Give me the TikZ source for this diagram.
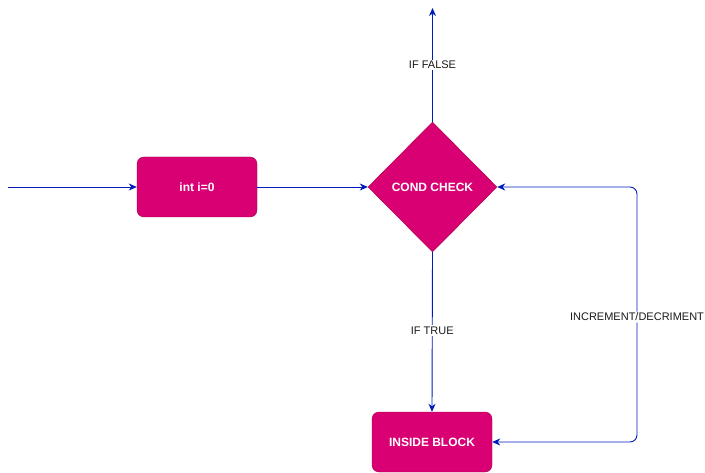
\documentclass[tikz,border=0pt]{standalone}
\usepackage{fontspec}
\setmainfont{Liberation Sans}
\usetikzlibrary{shapes.geometric,arrows.meta}
\definecolor{pinkfill}{HTML}{D80073}
\definecolor{pinkline}{HTML}{A50040}
\definecolor{conn}{HTML}{001DBC}
\definecolor{lbl}{HTML}{1A1A1A}
\tikzset{
  block/.style={draw=pinkline, fill=pinkfill, rounded corners=7pt, minimum width=120pt, minimum height=60pt, inner sep=0pt, text=white, font=\fontsize{12pt}{14pt}\selectfont\bfseries},
  decision/.style={draw=pinkline, fill=pinkfill, diamond, minimum width=129pt, minimum height=130pt, inner sep=0pt, text=white, font=\fontsize{12pt}{14pt}\selectfont\bfseries},
  conn/.style={draw=conn, line width=0.9pt, -{Stealth[length=8pt,width=7pt,inset=2.5pt]}},
  elabel/.style={fill=white, text=lbl, inner sep=1.5pt, font=\fontsize{11pt}{13pt}\selectfont},
}
\begin{document}
\begin{tikzpicture}[x=1pt,y=-1pt]
\useasboundingbox (0,0) rectangle (705,473);
\node[block] (init) at (197,187) {int i=0};
\node[decision] (cond) at (432.5,187) {COND CHECK};
\node[block] (inside) at (432,442) {INSIDE BLOCK};
\coordinate (start) at (8,187);
\coordinate (top) at (432.5,8);
\coordinate (loopA) at (637,442);
\coordinate (loopB) at (637,187);
\draw[conn] (start) -- (init.west);
\draw[conn] (init.east) -- (cond.west);
\draw[conn] (cond.north) -- node[elabel, pos=0.5] {IF FALSE} (top);
\draw[conn] (cond.south) -- node[elabel, pos=0.49] {IF TRUE} (inside.north);
\draw[conn, {Stealth[length=8pt,width=7pt,inset=2.5pt]}-{Stealth[length=8pt,width=7pt,inset=2.5pt]}, rounded corners=7pt] (inside.east) -- (loopA) -- node[elabel, pos=0.49] {INCREMENT/DECRIMENT} (loopB) -- (cond.east);
\end{tikzpicture}
\end{document}
